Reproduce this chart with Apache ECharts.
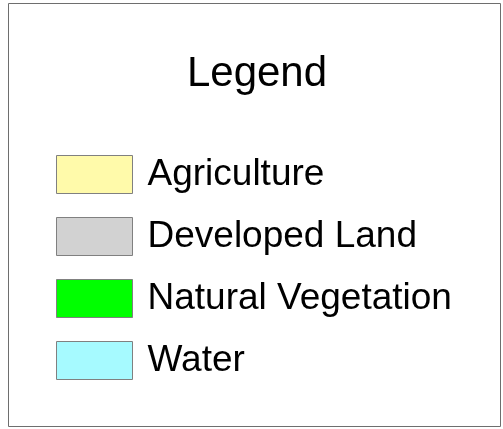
<!DOCTYPE html>
<html>
<head>
<meta charset="utf-8">
<script src="https://cdn.jsdelivr.net/npm/echarts@6/dist/echarts.min.js"></script>
<style>
  html, body { margin: 0; padding: 0; background: #fff; }
  #main { width: 503px; height: 429px; }
</style>
</head>
<body>
<div id="main"></div>
<script>
// legend entries and their fill colours
const categories = ['Agriculture', 'Developed Land', 'Natural Vegetation', 'Water']
const fillColors = ['#FFFAAA', '#D2D2D2', '#00FF00', '#A6FAFF']
const titleText = 'Legend'

const chart = echarts.init(document.getElementById('main'), null, { renderer: 'canvas' })

const series = categories.map((name, i) => ({
  name,
  type: 'bar',
  data: [],
  itemStyle: {
    color: fillColors[i],
    borderColor: '#808080',
    borderWidth: 1,
  },
}))

const option = {
  backgroundColor: '#fff',
  animation: false,
  title: {
    text: titleText,
    left: 252,
    top: 48,
    textAlign: 'center',
    textStyle: {
      fontFamily: 'Liberation Sans',
      fontSize: 42,
      fontWeight: 'normal',
      color: '#000',
    },
  },
  legend: {
    orient: 'vertical',
    left: 56,
    top: 155,
    padding: 0,
    itemWidth: 76,
    itemHeight: 38,
    itemGap: 23,
    icon: 'rect',
    selectedMode: false,
    itemStyle: {
      borderColor: '#808080',
      borderWidth: 1,
    },
    textStyle: {
      fontFamily: 'Liberation Sans',
      fontSize: 37,
      color: '#000',
      padding: [0, 0, 4, 10],
    },
    data: categories,
  },
  grid: { show: false },
  xAxis: { show: false, type: 'category' },
  yAxis: { show: false, type: 'value' },
  series,
  // outer frame
  graphic: [
    {
      type: 'rect',
      shape: { x: 8.5, y: 3.5, width: 492, height: 423 },
      style: { fill: null, stroke: '#6e6e6e', lineWidth: 1 },
      silent: true,
    },
  ],
}

chart.setOption(option)
</script>
</body>
</html>
